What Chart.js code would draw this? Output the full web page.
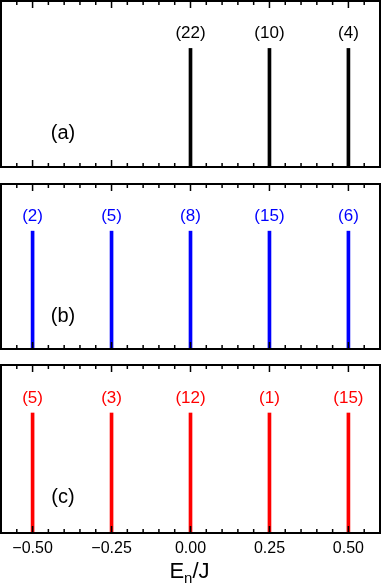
<!DOCTYPE html>
<html lang="en">
<head>
    <meta charset="UTF-8">
    <title>Energy levels</title>
    <script src="https://cdn.jsdelivr.net/npm/chart.js"></script>
    <style>
        body { margin: 0; background: #fff; }
        #wrap { position: relative; width: 382px; height: 584px; }
        #wrap canvas { position: absolute; left: 0; }
    </style>
</head>
<body>
    <div id="wrap">
        <canvas id="panelA" style="top:0px"></canvas>
        <canvas id="panelB" style="top:175px"></canvas>
        <canvas id="panelC" style="top:360px"></canvas>
    </div>

    <script>
        // energies (E_n/J) and degeneracies
        const energiesA = [0.00, 0.25, 0.50];
        const degenA = [22, 10, 4];

        const energiesB = [-0.50, -0.25, 0.00, 0.25, 0.50];
        const degenB = [2, 5, 8, 15, 6];

        const energiesC = [-0.50, -0.25, 0.00, 0.25, 0.50];
        const degenC = [5, 3, 12, 1, 15];

        const tickValues = [-0.50, -0.25, 0.00, 0.25, 0.50];
        const FONT = '"Liberation Sans", Arial, Helvetica, sans-serif';

        function isMajor(v) {
            return tickValues.some(t => Math.abs(t - v) < 1e-6);
        }

        // frame, inward ticks, degeneracy labels, panel letter
        const decorPlugin = {
            id: 'decor',
            afterDatasetsDraw(chart, args, opts) {
                const ctx = chart.ctx;
                const area = chart.chartArea;
                const x = chart.scales.x;

                ctx.save();
                ctx.strokeStyle = '#000';
                ctx.lineWidth = 1.5;
                x.ticks.forEach(t => {
                    const px = x.getPixelForValue(t.value);
                    const len = isMajor(t.value) ? 7 : 4;
                    ctx.beginPath();
                    ctx.moveTo(px, area.top);
                    ctx.lineTo(px, area.top + len);
                    ctx.moveTo(px, area.bottom);
                    ctx.lineTo(px, area.bottom - len);
                    ctx.stroke();
                });

                ctx.lineWidth = 2;
                ctx.strokeRect(area.left, area.top, area.right - area.left, area.bottom - area.top);

                // degeneracy labels above each line
                const meta = chart.getDatasetMeta(0);
                ctx.font = '17px ' + FONT;
                ctx.textAlign = 'center';
                ctx.textBaseline = 'middle';
                ctx.fillStyle = opts.color;
                meta.data.forEach((el, i) => {
                    ctx.fillText('(' + opts.degen[i] + ')', el.x, el.y - 15);
                });

                ctx.font = '20px ' + FONT;
                ctx.fillStyle = '#000';
                ctx.fillText(opts.letter, area.left + 62, area.top + 132.5);

                // axis title with subscript
                if (opts.showTitle) {
                    const base = 578;
                    const big = '22px ' + FONT;
                    const small = '15px ' + FONT;
                    ctx.textAlign = 'left';
                    ctx.textBaseline = 'alphabetic';
                    ctx.font = big;
                    const wE = ctx.measureText('E').width;
                    const wJ = ctx.measureText('/J').width;
                    ctx.font = small;
                    const wn = ctx.measureText('n').width;
                    const total = wE + wn + wJ;
                    let cx = (area.left + area.right) / 2 - 1 - total / 2;
                    const yb = base - chart.canvas.offsetTop;
                    ctx.font = big;
                    ctx.fillText('E', cx, yb);
                    cx += wE;
                    ctx.font = small;
                    ctx.fillText('n', cx, yb + 5);
                    cx += wn;
                    ctx.font = big;
                    ctx.fillText('/J', cx, yb);
                }
                ctx.restore();
            }
        };

        function makePanel(id, energies, degen, color, letter, pad, showAxis) {
            const points = energies.map(e => ({ x: e, y: 1 }));
            return new Chart(document.getElementById(id), {
                type: 'bar',
                data: {
                    datasets: [{
                        data: points,
                        backgroundColor: color,
                        borderWidth: 0,
                        barThickness: 3
                    }]
                },
                options: {
                    responsive: false,
                    animation: false,
                    events: [],
                    layout: { padding: pad },
                    plugins: {
                        legend: { display: false },
                        tooltip: { enabled: false },
                        decor: { degen: degen, color: color, letter: letter, showTitle: showAxis }
                    },
                    scales: {
                        x: {
                            type: 'linear',
                            min: -0.6,
                            max: 0.6,
                            offset: false,
                            grid: { display: false, drawTicks: false },
                            border: { display: false },
                            ticks: {
                                display: showAxis,
                                stepSize: 0.05,
                                autoSkip: false,
                                maxRotation: 0,
                                padding: 6,
                                color: '#000',
                                font: { family: FONT, size: 16 },
                                callback: v => {
                                    if (!isMajor(v)) return '';
                                    return (v < -1e-9 ? '\u2212' : '') + Math.abs(v).toFixed(2);
                                }
                            },
                            afterFit: s => {
                                s.height = showAxis ? 51 : 0;
                                s.paddingLeft = 0;
                                s.paddingRight = 0;
                            }
                        },
                        y: {
                            display: false,
                            min: 0,
                            max: 1.4
                        }
                    }
                },
                plugins: [decorPlugin]
            });
        }

        function sizeCanvas(id, w, h) {
            const c = document.getElementById(id);
            c.width = w;
            c.height = h;
            c.style.width = w + 'px';
            c.style.height = h + 'px';
        }

        sizeCanvas('panelA', 382, 170);
        sizeCanvas('panelB', 382, 180);
        sizeCanvas('panelC', 382, 224);

        makePanel('panelA', energiesA, degenA, '#000000', '(a)', { top: 1, left: 1, right: 2, bottom: 3 }, false);
        makePanel('panelB', energiesB, degenB, '#0000ff', '(b)', { top: 9, left: 1, right: 2, bottom: 6 }, false);
        makePanel('panelC', energiesC, degenC, '#ff0000', '(c)', { top: 5, left: 1, right: 2, bottom: 0 }, true);
    </script>
</body>
</html>
